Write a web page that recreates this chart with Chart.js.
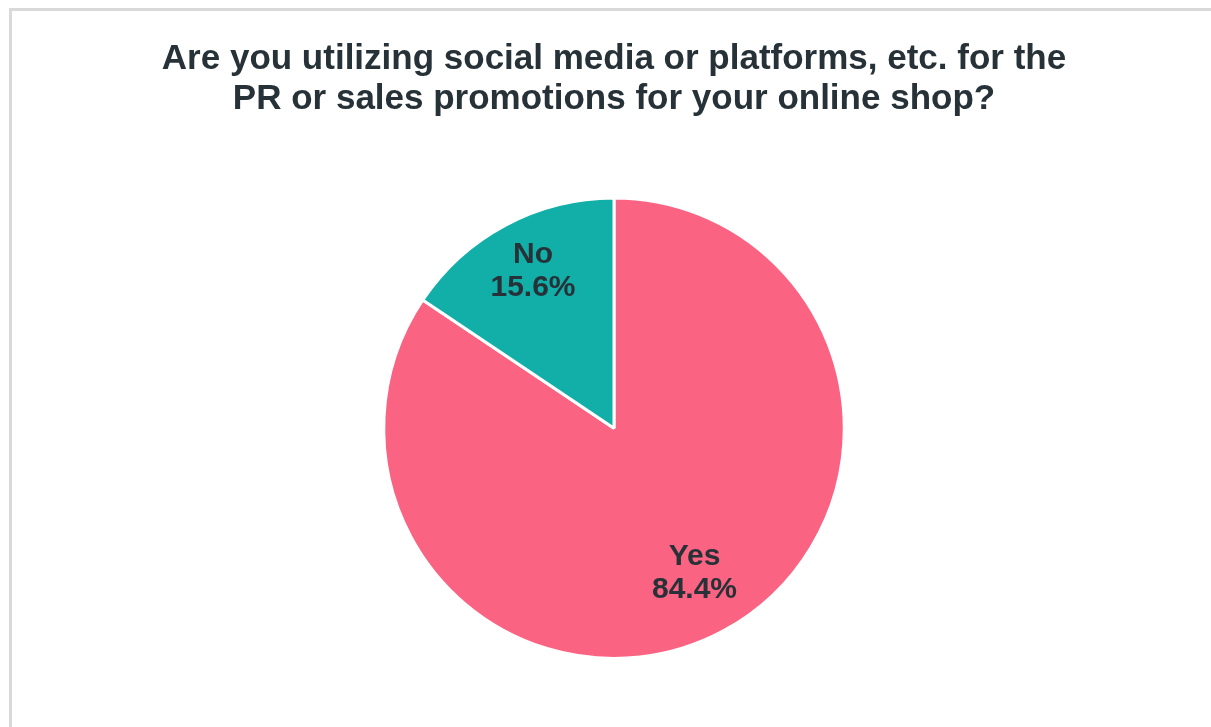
<!DOCTYPE html>
<html>
<head>
<meta charset="utf-8">
<title>Social media use for PR</title>
<script src="https://cdn.jsdelivr.net/npm/chart.js@4.4.1/dist/chart.umd.min.js"></script>
<style>
  html, body { margin: 0; padding: 0; background: #ffffff; overflow: hidden; }
  #wrap { position: relative; width: 1211px; height: 727px; }
  #surveyChart { position: absolute; left: 0; top: 0; }
  #frame {
    position: absolute; left: 9px; top: 8px; width: 1240px; height: 760px;
    border: 3px solid #d9d9d9; pointer-events: none;
  }
</style>
</head>
<body>
<div id="wrap">
  <canvas id="surveyChart" width="1211" height="727"></canvas>
  <div id="frame"></div>
</div>
<script>
// survey answers
var answers = ['Yes', 'No'];
var shares = [84.4, 15.6];
var sliceColors = ['#fb6382', '#12afa9'];

var titleLines = [
  'Are you utilizing social media or platforms, etc. for the',
  'PR or sales promotions for your online shop?'
];

// writes "answer / percent" inside each slice
var sliceLabels = {
  id: 'sliceLabels',
  afterDatasetsDraw: function (chart, args, opts) {
    var ctx = chart.ctx;
    var meta = chart.getDatasetMeta(0);
    ctx.save();
    ctx.font = 'bold ' + opts.size + 'px "Liberation Sans", Arial, sans-serif';
    ctx.fillStyle = opts.color;
    ctx.textAlign = 'center';
    ctx.textBaseline = 'middle';
    meta.data.forEach(function (arc, i) {
      var p = arc.getProps(['x', 'y', 'startAngle', 'endAngle', 'outerRadius'], true);
      var mid = (p.startAngle + p.endAngle) / 2;
      var r = p.outerRadius * opts.radiusFactor[i];
      var cx = p.x + Math.cos(mid) * r + opts.shiftX;
      var cy = p.y + Math.sin(mid) * r;
      var value = chart.data.datasets[0].data[i];
      ctx.fillText(chart.data.labels[i], cx, cy - opts.lineGap / 2);
      ctx.fillText(value.toFixed(1) + '%', cx, cy + opts.lineGap / 2);
    });
    ctx.restore();
  }
};

var ctx = document.getElementById('surveyChart').getContext('2d');

var surveyChart = new Chart(ctx, {
  type: 'pie',
  data: {
    labels: answers,
    datasets: [{
      data: shares,
      backgroundColor: sliceColors,
      borderColor: '#ffffff',
      borderWidth: 3
    }]
  },
  options: {
    responsive: false,
    animation: false,
    layout: {
      padding: { left: 17, right: 0, top: 0, bottom: 67 }
    },
    plugins: {
      legend: { display: false },
      tooltip: { enabled: false },
      title: {
        display: true,
        text: titleLines,
        color: '#263238',
        font: { family: '"Liberation Sans", Arial, sans-serif', size: 35, weight: 'bold', lineHeight: 1.15 },
        padding: { top: 39, bottom: 77 }
      },
      sliceLabels: {
        size: 30,
        color: '#263238',
        lineGap: 33,
        shiftX: 3,
        radiusFactor: [0.715, 0.775]
      }
    }
  },
  plugins: [sliceLabels]
});
</script>
</body>
</html>
